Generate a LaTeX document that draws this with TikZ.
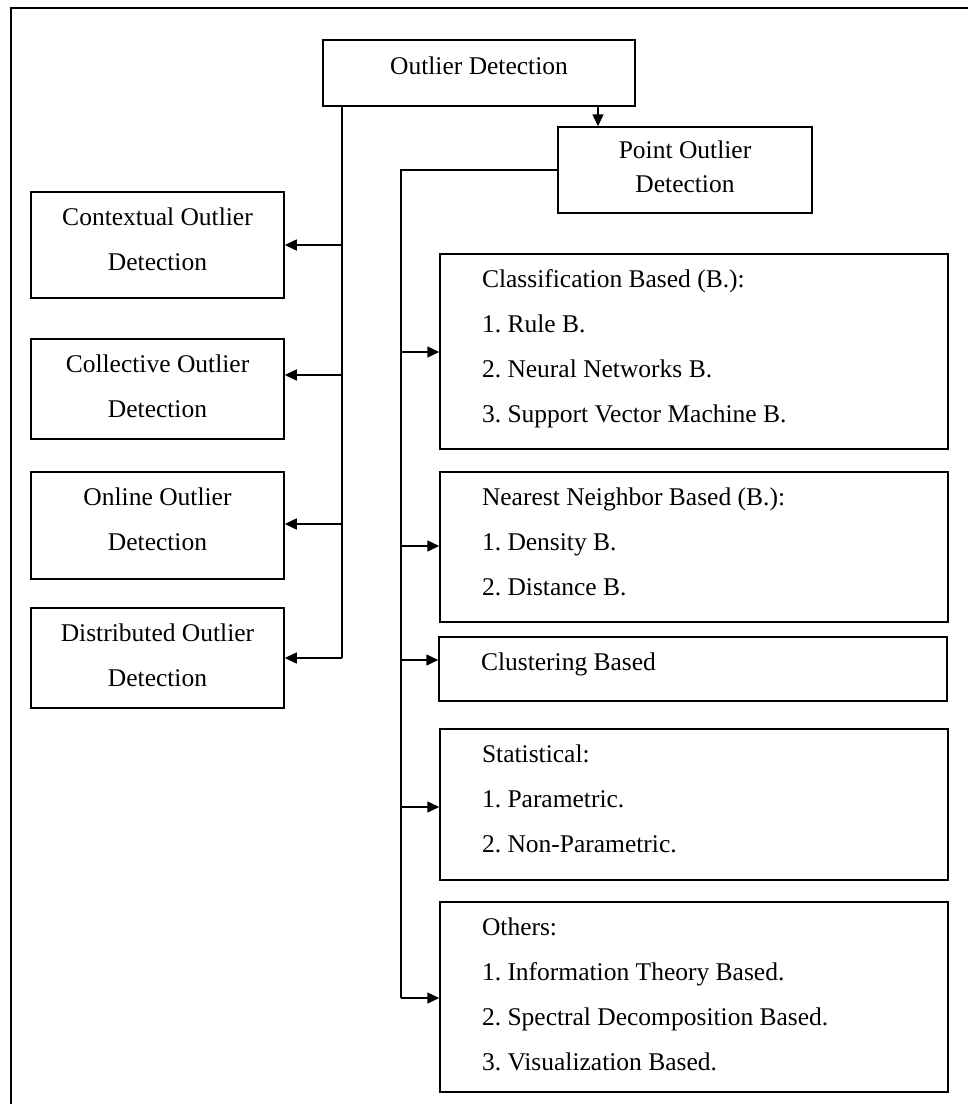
\documentclass[tikz,border=0pt]{standalone}
\usepackage{fontspec}
\setmainfont{Liberation Serif}
\usetikzlibrary{arrows.meta}
\begin{document}
\begin{tikzpicture}[x=1pt,y=-1pt,
  line width=1.5pt,
  box/.style={draw, line width=1.5pt, inner sep=0pt,
    font=\fontsize{25.5}{45}\selectfont\frenchspacing},
  % first baseline sits 33pt below the top edge: text depth = height - 66pt
  leftbox/.style={box, minimum width=253pt, text height=0pt},
  listbox/.style={box, minimum width=508pt, inner xsep=42pt, text height=0pt},
  arr/.style={-{Triangle[length=12pt,width=11pt]}}]
\useasboundingbox (0,0) rectangle (968,1104);

% outer frame
\draw (11,1104) -- (11,8) -- (968,8);

% root and point detection
\node[box, minimum width=312pt, minimum height=66pt, text height=2pt, text depth=0pt]
  (root) at (479,73) {Outlier Detection};
\node[box, minimum width=254pt, minimum height=86pt, text height=0pt, text depth=24pt,
      font=\fontsize{25.5}{34}\selectfont]
  (point) at (685,170) {\parbox[t]{254pt}{\centering Point Outlier\\Detection}};

% left column
\node[leftbox, minimum height=106pt, text depth=40pt] (ctx) at (157.5,245)
  {\parbox[t]{253pt}{\centering Contextual Outlier\\Detection}};
\node[leftbox, minimum height=100pt, text depth=34pt] (col) at (157.5,389)
  {\parbox[t]{253pt}{\centering Collective Outlier\\Detection}};
\node[leftbox, minimum height=107pt, text depth=41pt] (onl) at (157.5,525.5)
  {\parbox[t]{253pt}{\centering Online Outlier\\Detection}};
\node[leftbox, minimum height=100pt, text depth=34pt] (dist) at (157.5,658)
  {\parbox[t]{253pt}{\centering Distributed Outlier\\Detection}};

% right column
\node[listbox, minimum height=195pt, text depth=129pt] (cls) at (694,351.5)
  {\parbox[t]{424pt}{\raggedright Classification Based (B.):\\1. Rule B.\\2. Neural Networks B.\\3. Support Vector Machine B.}};
\node[listbox, minimum height=150pt, text depth=84pt] (nn) at (694,547)
  {\parbox[t]{424pt}{\raggedright Nearest Neighbor Based (B.):\\1. Density B.\\2. Distance B.}};
\node[listbox, minimum height=64pt, text height=2pt, text depth=0pt] (clu) at (693,669)
  {\parbox[t]{424pt}{\raggedright Clustering Based}};
\node[listbox, minimum height=151pt, text depth=85pt] (stat) at (694,804.5)
  {\parbox[t]{424pt}{\raggedright Statistical:\\1. Parametric.\\2. Non-Parametric.}};
\node[listbox, minimum height=190pt, text depth=124pt] (oth) at (694,997)
  {\parbox[t]{424pt}{\raggedright Others:\\1. Information Theory Based.\\2. Spectral Decomposition Based.\\3. Visualization Based.}};

% trunk positions
\coordinate (down) at (598,0);
\coordinate (lt) at (342,0);
\coordinate (rt) at (401,0);
\coordinate (la1) at (342,245);
\coordinate (la2) at (342,375);
\coordinate (la3) at (342,524);
\coordinate (la4) at (342,658);
\coordinate (ra1) at (401,352);
\coordinate (ra2) at (401,546);
\coordinate (ra3) at (401,660);
\coordinate (ra4) at (401,807);
\coordinate (ra5) at (401,998);

% root to point detection
\draw[arr] (root.south -| down) -- (point.north -| down);

% left trunk and branches
\draw (root.south -| lt) -- (la4);
\draw[arr] (la1) -- (ctx.east |- la1);
\draw[arr] (la2) -- (col.east |- la2);
\draw[arr] (la3) -- (onl.east |- la3);
\draw[arr] (la4) -- (dist.east |- la4);

% right trunk and branches
\draw (point.west) -- (point.west -| rt) -- (ra5);
\draw[arr] (ra1) -- (cls.west |- ra1);
\draw[arr] (ra2) -- (nn.west |- ra2);
\draw[arr] (ra3) -- (clu.west |- ra3);
\draw[arr] (ra4) -- (stat.west |- ra4);
\draw[arr] (ra5) -- (oth.west |- ra5);
\end{tikzpicture}
\end{document}
